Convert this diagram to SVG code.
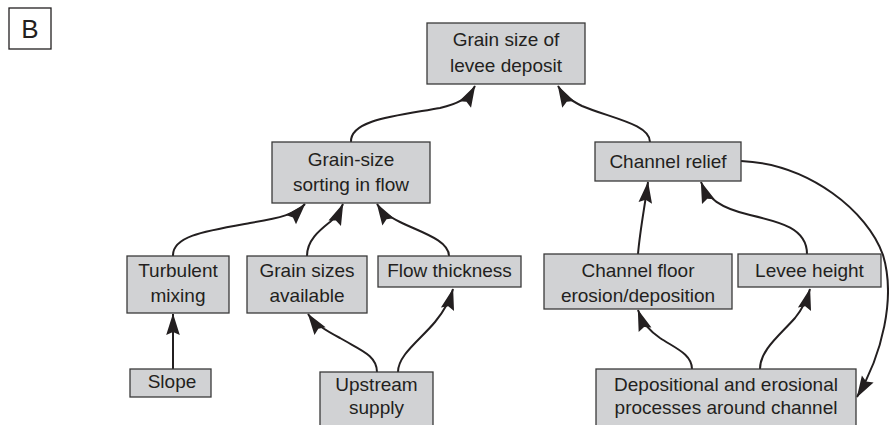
<svg xmlns="http://www.w3.org/2000/svg" width="889" height="425" viewBox="0 0 889 425">
<defs>
<style>
.box{fill:#d1d2d4;stroke:#3a3a3a;stroke-width:1.3}
text{font-family:"Liberation Sans",Arial,sans-serif;font-size:19px;fill:#231f20;text-anchor:middle}
.c{fill:none;stroke:#231f20;stroke-width:2;marker-end:url(#ah)}
</style>
<marker id="ah" markerUnits="userSpaceOnUse" markerWidth="24" markerHeight="16" viewBox="-23 -8 24 16" refX="0" refY="0" orient="auto">
<path d="M0.5,0 L-21,-6.8 L-18,0 L-21,6.8 Z" fill="#231f20"/>
</marker>
</defs>
<rect x="0" y="0" width="889" height="425" fill="#ffffff"/>
<g id="label-B">
<rect x="9" y="8" width="42" height="41" fill="#ffffff" stroke="#231f20" stroke-width="1.3"/>
<text x="30" y="38" style="font-size:26px">B</text>
</g>
<g id="connectors">
<path class="c" d="M351,142 C350,120 395,116 440,108 C457,104 468,99 475,86"/>
<path class="c" d="M650,142 C650,124 610,118 582,106 C570,100 563,95 558,86"/>
<path class="c" d="M173,256 C172,236 205,231 250,223 C280,218 296,214 305,204"/>
<path class="c" d="M307,256 C307,240 320,230 330,222 C337,216 340,211 343,204"/>
<path class="c" d="M449,256 C449,240 420,232 400,222 C388,216 382,212 377,204"/>
<path class="c" d="M173,369 L173,314"/>
<path class="c" d="M377,372 C377,355 360,350 340,338 C325,330 315,324 308,314"/>
<path class="c" d="M398,372 C398,355 420,340 435,322 C445,310 450,300 453,289"/>
<path class="c" d="M638,254 C640,230 645,205 648,182"/>
<path class="c" d="M807,254 C807,228 780,222 750,215 C720,208 707,198 701,182"/>
<path class="c" d="M741,161 C810,164 868,212 883,255 C896,298 882,355 857,397"/>
<path class="c" d="M692,369 C692,354 675,348 660,338 C650,331 643,324 638,310"/>
<path class="c" d="M760,369 C760,350 780,335 795,318 C803,308 807,300 810,289"/>
</g>
<g id="n-grain-size-levee">
<rect class="box" x="427" y="23" width="158" height="61"/>
<text x="506" y="46">Grain size of</text>
<text x="506" y="72">levee deposit</text>
</g>
<g id="n-sorting">
<rect class="box" x="272" y="142" width="158" height="61"/>
<text x="351" y="166">Grain-size</text>
<text x="351" y="191">sorting in flow</text>
</g>
<g id="n-channel-relief">
<rect class="box" x="595" y="142" width="146" height="39"/>
<text x="668" y="168">Channel relief</text>
</g>
<g id="n-turbulent">
<rect class="box" x="127" y="256" width="102" height="57"/>
<text x="178" y="277">Turbulent</text>
<text x="178" y="302">mixing</text>
</g>
<g id="n-grain-sizes">
<rect class="box" x="247" y="256" width="120" height="57"/>
<text x="307" y="277">Grain sizes</text>
<text x="307" y="302">available</text>
</g>
<g id="n-flow-thickness">
<rect class="box" x="378" y="256" width="143" height="31"/>
<text x="449.5" y="277">Flow thickness</text>
</g>
<g id="n-channel-floor">
<rect class="box" x="544" y="254" width="188" height="55"/>
<text x="638" y="277">Channel floor</text>
<text x="638" y="302">erosion/deposition</text>
</g>
<g id="n-levee-height">
<rect class="box" x="738" y="254" width="143" height="33"/>
<text x="809.5" y="277">Levee height</text>
</g>
<g id="n-slope">
<rect class="box" x="130" y="369" width="81" height="28"/>
<text x="172" y="388">Slope</text>
</g>
<g id="n-upstream">
<rect class="box" x="320" y="372" width="113" height="60"/>
<text x="376.5" y="391">Upstream</text>
<text x="376.5" y="414">supply</text>
</g>
<g id="n-depositional">
<rect class="box" x="596" y="369" width="260" height="63"/>
<text x="726" y="391">Depositional and erosional</text>
<text x="726" y="414">processes around channel</text>
</g>
</svg>
